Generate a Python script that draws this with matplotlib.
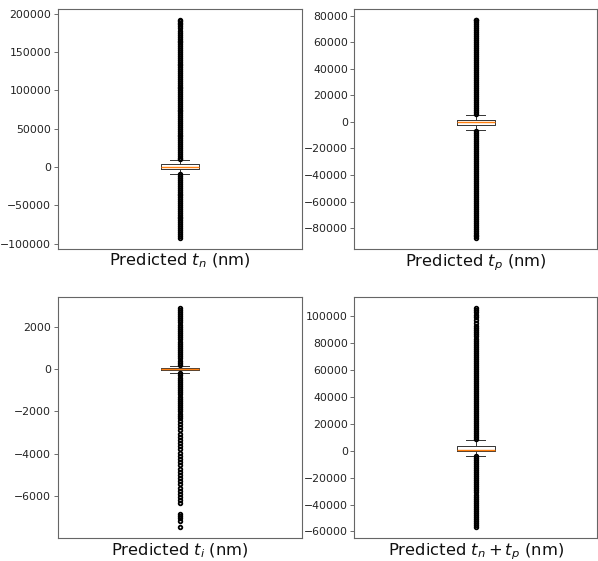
import matplotlib.pyplot as plt

# box statistics (nm)
labels = ['Predicted $t_n$ (nm)', 'Predicted $t_p$ (nm)',
          'Predicted $t_i$ (nm)', 'Predicted $t_n + t_p$ (nm)']
medians = [0, 0, 0, 600]
q1s = [-2600, -2000, -60, 100]
q3s = [3400, 1500, 50, 3700]
whis_lo = [-8700, -6500, -180, -3700]
whis_hi = [9100, 5500, 150, 8000]

# outliers (dense columns read as closely spaced points)
tn_fliers = [10000, 12500, 15000, 17500, 20000, 22500, 25000, 27500, 30000, 32500,
             35000, 37500, 40000, 42500, 45000, 47500, 50000, 52500, 55000, 57500,
             60000, 62500, 65000, 67500, 70000, 72500, 75000, 77500, 80000, 82500,
             85000, 87500, 90000, 92500, 95000, 97500, 100000, 102500, 105000, 107500,
             110000, 112500, 115000, 117500, 120000, 122500, 125000, 127500, 130000,
             132500, 135000, 137500, 140000, 142500, 145000, 147500, 150000, 152500,
             155000, 157500, 160000, 162500, 165000, 167500, 170000, 172000,
             175500, 178000, 181000, 184000, 186500, 188500, 190500, 192000,
             -9500, -12000, -14500, -17000, -19500, -22000, -24500, -27000, -29500,
             -32000, -34500, -37000, -39500, -42000, -44500, -47000, -49500, -52000,
             -54500, -57000, -59500, -62000, -64500, -67000, -69500, -72000, -74500,
             -77000, -79500, -82000, -84500, -87000, -89500, -92000]
tp_fliers = [6000, 7500, 9000, 10500, 12000, 13500, 15000, 16500, 18000, 19500,
             21000, 22500, 24000, 25500, 27000, 28500, 30000, 31500, 33000, 34500,
             36000, 37500, 39000, 40500, 42000, 43500, 45000, 46500, 48000, 49500,
             51000, 52500, 54000, 55500, 57000, 58500, 60000, 61500, 63000, 64500,
             66000, 67500, 69000, 70500, 72000, 73500, 75000, 76500, 76800,
             -7000, -8500, -10000, -11500, -13000, -14500, -16000, -17500, -19000,
             -20500, -22000, -23500, -25000, -26500, -28000, -29500, -31000, -32500,
             -34000, -35500, -37000, -38500, -40000, -41500, -43000, -44500, -46000,
             -47500, -49000, -50500, -52000, -53500, -55000, -56500, -58000, -59500,
             -61000, -62500, -64000, -65500, -67000, -68500, -70000, -71500, -73000,
             -74500, -76000, -77500, -79000, -80500, -82000, -83500, -85000, -86000,
             -87200]
ti_fliers = [200, 300, 400, 500, 600, 700, 800, 900, 1000, 1100, 1200, 1300, 1400,
             1500, 1600, 1700, 1800, 1900, 2000, 2100, 2200, 2300, 2400, 2500, 2600,
             2700, 2800, 2860,
             -200, -300, -400, -500, -600, -700, -800, -900, -1000, -1100, -1200,
             -1300, -1400, -1500, -1600, -1700, -1800, -1900, -2000, -2100, -2200,
             -2300, -2450, -2600, -2750, -2900, -3050, -3200, -3350, -3500, -3650,
             -3800, -3950, -4100, -4250, -4400, -4550, -4700, -4850, -5000, -5150,
             -5300, -5450, -5600, -5750, -5900, -6050, -6200, -6350,
             -6850, -6950, -7050, -7200, -7480]
tntp_fliers = [8500, 10000, 11500, 13000, 14500, 16000, 17500, 19000, 20500, 22000,
               23500, 25000, 26500, 28000, 29500, 31000, 32500, 34000, 35500, 37000,
               38500, 40000, 41500, 43000, 44500, 46000, 47500, 49000, 50500, 52000,
               53500, 55000, 56500, 58000, 59500, 61000, 62500, 64000, 65500, 67000,
               68500, 70000, 71500, 73000, 74500, 76000, 77500, 79000, 80500, 82000,
               83500, 85000, 86500, 88000, 89500, 91000, 92500,
               95000, 97000, 99500, 101000, 103000, 104500, 106000,
               -4000, -5500, -7000, -8500, -10000, -11500, -13000, -14500, -16000,
               -17500, -19000, -20500, -22000, -23500, -25000, -26500, -28000,
               -29500, -31000, -32500, -34000, -35500, -37000, -38500, -40000,
               -41500, -43000, -44500, -46000, -47500, -49000, -50500, -52000,
               -53500, -55000, -56500]
fliers = [tn_fliers, tp_fliers, ti_fliers, tntp_fliers]

yticks = [[-100000, -50000, 0, 50000, 100000, 150000, 200000],
          [-80000, -60000, -40000, -20000, 0, 20000, 40000, 60000, 80000],
          [-8000, -6000, -4000, -2000, 0, 2000],
          [-60000, -40000, -20000, 0, 20000, 40000, 60000, 80000, 100000]]

fig = plt.figure(figsize=(5.98, 5.61), dpi=100)
rects = [[0.0965, 0.557, 0.408, 0.427],
         [0.5925, 0.557, 0.406, 0.427],
         [0.0965, 0.0415, 0.408, 0.4285],
         [0.5925, 0.0415, 0.406, 0.4285]]

for i in range(4):
    ax = fig.add_axes(rects[i])
    stats = [dict(med=medians[i], q1=q1s[i], q3=q3s[i],
                  whislo=whis_lo[i], whishi=whis_hi[i], fliers=fliers[i])]
    ax.bxp(stats, positions=[1], widths=0.155,
           boxprops=dict(color='#333333', linewidth=0.7),
           whiskerprops=dict(color='#333333', linewidth=0.7),
           capprops=dict(color='#333333', linewidth=0.7),
           medianprops=dict(color='#ff7f0e', linewidth=1.0),
           flierprops=dict(marker='o', markersize=2.6, markeredgewidth=1.3,
                           markerfacecolor='none', markeredgecolor='black'))
    ax.set_xlim(0.5, 1.5)
    ax.set_xticks([])
    ax.set_yticks(yticks[i])
    ax.tick_params(axis='y', labelsize=7.8, length=2.6, width=0.6,
                   pad=2, labelcolor='#222222', color='#555555')
    for s in ax.spines.values():
        s.set_color('#666666')
        s.set_linewidth(0.8)
    ax.set_xlabel(labels[i], fontsize=11.8, labelpad=2.5, color='#111111')

# bottom-left axis ends exactly at -8000 in the source
fig.axes[2].set_ylim(-7966, 3386)

fig.savefig('out.png', dpi=100)
